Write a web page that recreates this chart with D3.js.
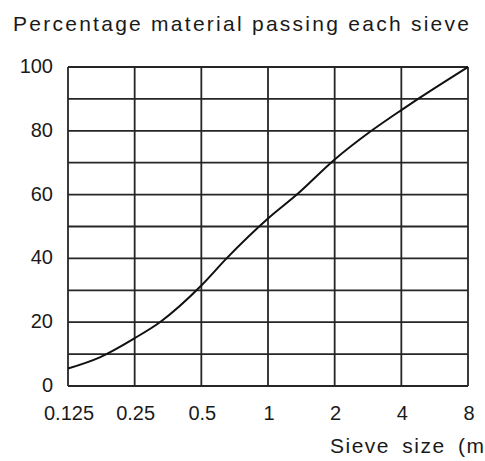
<!DOCTYPE html>
<html>
<head>
<meta charset="utf-8">
<script src="https://cdn.jsdelivr.net/npm/d3@7"></script>
<style>
  html, body { margin: 0; padding: 0; background: #fff; overflow: hidden; }
  svg { display: block; }
  text { font-family: "Liberation Sans", Arial, sans-serif; fill: #1a1a1a; }
</style>
</head>
<body>
<svg id="chart" width="485" height="461"></svg>
<script>
// Data
const sieveSizes = [0.125, 0.174, 0.25, 0.325, 0.5, 0.65, 1, 1.35, 2, 2.93, 4, 4.76, 8];
const percentPassing = [5.5, 9, 15, 20, 31.5, 40, 52.5, 60, 71, 80, 86.5, 90, 100];
const xTickValues = [0.125, 0.25, 0.5, 1, 2, 4, 8];
const xTickLabels = ["0.125", "0.25", "0.5", "1", "2", "4", "8"];
const yGridValues = [0, 10, 20, 30, 40, 50, 60, 70, 80, 90, 100];
const yTickValues = [0, 20, 40, 60, 80, 100];
const titleText = "Percentage material passing each sieve";
const xAxisTitle = "Sieve size (mm)";

const svg = d3.select("#chart");
const plotLeft = 68, plotRight = 468, plotTop = 67, plotBottom = 386;

const x = d3.scaleLog().base(2).domain([0.125, 8]).range([plotLeft, plotRight]);
const y = d3.scaleLinear().domain([0, 100]).range([plotBottom, plotTop]);

const gridColor = "#262626";

// vertical grid lines
svg.append("g").selectAll("line").data(xTickValues).join("line")
  .attr("x1", d => x(d)).attr("x2", d => x(d))
  .attr("y1", y(0)).attr("y2", y(100))
  .attr("stroke", gridColor).attr("stroke-width", 1.8);

// horizontal grid lines
svg.append("g").selectAll("line").data(yGridValues).join("line")
  .attr("x1", x(0.125)).attr("x2", x(8))
  .attr("y1", d => y(d)).attr("y2", d => y(d))
  .attr("stroke", gridColor).attr("stroke-width", 1.8);

// x tick labels
svg.append("g").selectAll("text").data(xTickValues).join("text")
  .attr("x", d => x(d) + 1)
  .attr("y", 420)
  .attr("text-anchor", "middle")
  .attr("font-size", 20)
  .text((d, i) => xTickLabels[i]);

// y tick labels
svg.append("g").selectAll("text").data(yTickValues).join("text")
  .attr("x", 53)
  .attr("y", d => y(d) + 6)
  .attr("text-anchor", "end")
  .attr("font-size", 20)
  .text(d => d);

// curve
const pts = sieveSizes.map((s, i) => [x(s), y(percentPassing[i])]);
svg.append("path")
  .attr("d", d3.line().curve(d3.curveMonotoneX)(pts))
  .attr("fill", "none")
  .attr("stroke", "#111")
  .attr("stroke-width", 2);

// title
svg.append("text")
  .attr("x", 13).attr("y", 31)
  .attr("font-size", 21)
  .attr("textLength", 456)
  .attr("lengthAdjust", "spacing")
  .text(titleText);

// x axis title (clipped by the window on the right, as in the reference)
svg.append("text")
  .attr("x", 330).attr("y", 453)
  .attr("font-size", 21)
  .attr("letter-spacing", 1.5)
  .attr("word-spacing", 5)
  .text(xAxisTitle);
</script>
</body>
</html>
